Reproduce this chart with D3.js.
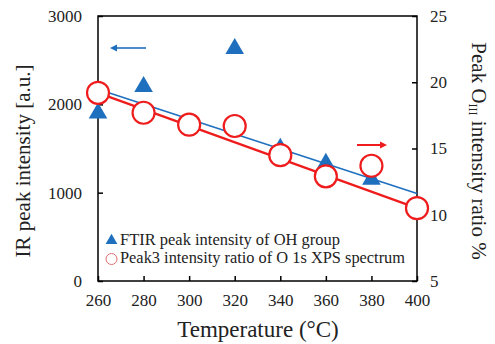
<!DOCTYPE html>
<html>
<head>
<meta charset="utf-8">
<script src="https://cdn.jsdelivr.net/npm/d3@7"></script>
</head>
<body style="margin:0; background:#fff">
<svg id="chart" width="495" height="344" style="display:block"></svg>
<script>
// values
const tempTicks = [260, 280, 300, 320, 340, 360, 380, 400];
const leftTicks = [0, 1000, 2000, 3000];
const rightTicks = [5, 10, 15, 20, 25];

const ftirTemp = [260, 280, 320, 340, 360, 380];
const ftirValue = [1900, 2200, 2630, 1500, 1330, 1150];

const xpsTemp = [260, 280, 300, 320, 340, 360, 380, 400];
const xpsValue = [19.2, 17.7, 16.8, 16.7, 14.5, 12.9, 13.7, 10.5];

// straight fit lines, end points
const ftirFit = [[260, 2170], [400, 990]];
const xpsFit = [[260, 19.2], [400, 10.5]];

const blue = "#1f6fbf";
const red = "#ee1c1c";
const FONT = "Liberation Serif";

const svg = d3.select("#chart")
    .attr("font-family", FONT)
    .style("font-family", `"${FONT}"`);
const m = { left: 98, top: 16, right: 417, bottom: 281 };

const x = d3.scaleLinear().domain([260, 400]).range([m.left, m.right]);
const yL = d3.scaleLinear().domain([0, 3000]).range([m.bottom, m.top]);
const yR = d3.scaleLinear().domain([5, 25]).range([m.bottom, m.top]);

// frame
svg.append("rect")
    .attr("x", m.left).attr("y", m.top)
    .attr("width", m.right - m.left).attr("height", m.bottom - m.top)
    .attr("fill", "none").attr("stroke", "#000").attr("stroke-width", 1.5);

// axes, ticks pointing inward, labels drawn separately
const fmt = d3.format("d");
svg.append("g")
    .attr("transform", `translate(0,${m.bottom})`)
    .call(d3.axisTop(x).tickValues(tempTicks).tickSize(5).tickFormat(""));
svg.append("g")
    .attr("transform", `translate(0,${m.bottom})`)
    .call(d3.axisBottom(x).tickValues(tempTicks).tickSize(0).tickPadding(13).tickFormat(fmt));

svg.append("g")
    .attr("transform", `translate(${m.left},0)`)
    .call(d3.axisRight(yL).tickValues(leftTicks).tickSize(5).tickFormat(""));
svg.append("g")
    .attr("transform", `translate(${m.left},0)`)
    .call(d3.axisLeft(yL).tickValues(leftTicks).tickSize(0).tickPadding(16).tickFormat(fmt));

svg.append("g")
    .attr("transform", `translate(${m.right},0)`)
    .call(d3.axisLeft(yR).tickValues(rightTicks).tickSize(5).tickFormat(""));
svg.append("g")
    .attr("transform", `translate(${m.right},0)`)
    .call(d3.axisRight(yR).tickValues(rightTicks).tickSize(0).tickPadding(13).tickFormat(fmt));

svg.selectAll("g").attr("font-family", FONT);
svg.selectAll(".domain").remove();
svg.selectAll(".tick line").attr("stroke", "#000").attr("stroke-width", 1.5);
svg.selectAll(".tick text").attr("font-size", 17).attr("fill", "#222");

// fit lines
const lineL = d3.line().x(d => x(d[0])).y(d => yL(d[1]));
const lineR = d3.line().x(d => x(d[0])).y(d => yR(d[1]));
svg.append("path").attr("d", lineL(ftirFit))
    .attr("fill", "none").attr("stroke", blue).attr("stroke-width", 1.6);
svg.append("path").attr("d", lineR(xpsFit))
    .attr("fill", "none").attr("stroke", red).attr("stroke-width", 2.2);

// triangles
const tri = d3.symbol().type(d3.symbolTriangle).size(150);
svg.selectAll(".tri").data(ftirTemp).enter().append("path")
    .attr("class", "tri")
    .attr("d", tri)
    .attr("transform", (d, i) => `translate(${x(d)},${yL(ftirValue[i])})`)
    .attr("fill", blue);

// circles
svg.selectAll(".circ").data(xpsTemp).enter().append("circle")
    .attr("class", "circ")
    .attr("cx", d => x(d))
    .attr("cy", (d, i) => yR(xpsValue[i]))
    .attr("r", 11)
    .attr("fill", "#fff").attr("stroke", red).attr("stroke-width", 2.2);

// arrows
function arrow(x0, x1, yy, color) {
    const dir = Math.sign(x1 - x0);
    svg.append("line").attr("x1", x0).attr("x2", x1 - dir * 4).attr("y1", yy).attr("y2", yy)
        .attr("stroke", color).attr("stroke-width", color === red ? 2 : 1.6);
    svg.append("path")
        .attr("d", `M${x1},${yy} L${x1 - dir * 7},${yy - 3.5} L${x1 - dir * 7},${yy + 3.5} Z`)
        .attr("fill", color);
}
arrow(146, 110, 48, blue);
arrow(357, 387, 145, red);

// legend
svg.append("path").attr("d", d3.symbol().type(d3.symbolTriangle).size(60))
    .attr("transform", "translate(111.5,240.5)").attr("fill", blue);
svg.append("text").attr("x", 120).attr("y", 245)
    .attr("font-size", 16).attr("fill", "#222")
    .attr("textLength", 220).attr("lengthAdjust", "spacingAndGlyphs")
    .text("FTIR peak intensity of OH group");
svg.append("circle").attr("cx", 111.5).attr("cy", 259).attr("r", 5.5)
    .attr("fill", "none").attr("stroke", "#e07070").attr("stroke-width", 1);
svg.append("text").attr("x", 120).attr("y", 263)
    .attr("font-size", 16).attr("fill", "#222")
    .attr("textLength", 285).attr("lengthAdjust", "spacingAndGlyphs")
    .text("Peak3 intensity ratio of O 1s XPS spectrum");

// axis titles
svg.append("text")
    .attr("x", 258).attr("y", 337)
    .attr("text-anchor", "middle").attr("font-size", 23).attr("fill", "#222")
    .text("Temperature (°C)");

svg.append("text")
    .attr("transform", "translate(30,161) rotate(-90)")
    .attr("text-anchor", "middle").attr("font-size", 21).attr("fill", "#222")
    .text("IR peak intensity [a.u.]");

const rt = svg.append("text")
    .attr("transform", "translate(472,151) rotate(90)")
    .attr("text-anchor", "middle").attr("font-size", 21).attr("fill", "#222");
rt.append("tspan").text("Peak O");
rt.append("tspan").attr("font-size", 12).attr("dy", 3).text("III");
rt.append("tspan").attr("dy", -3).text(" intensity ratio %");

svg.selectAll("text, tspan").style("font-family", `"${FONT}"`);
</script>
</body>
</html>
